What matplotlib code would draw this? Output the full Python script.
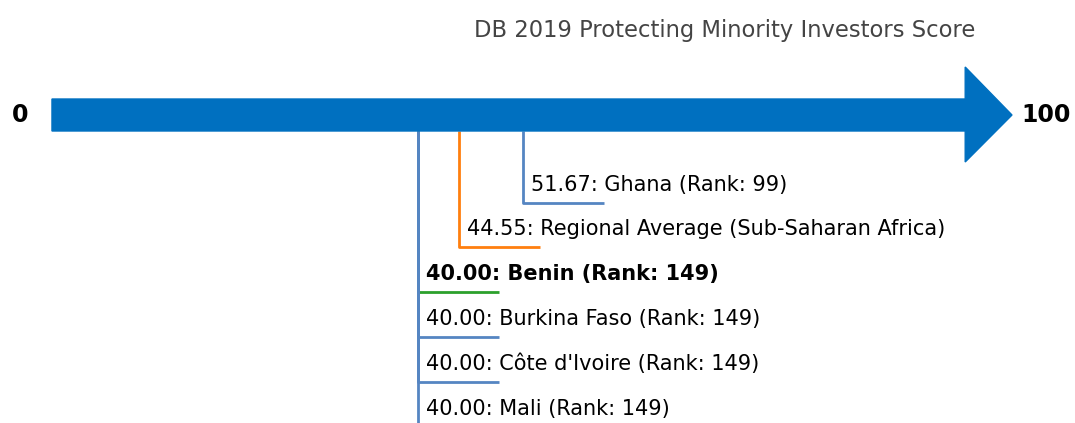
import matplotlib.pyplot as plt
from matplotlib.patches import Polygon

# data
title = "DB 2019 Protecting Minority Investors Score"
names = ["Ghana (Rank: 99)", "Regional Average (Sub-Saharan Africa)", "Benin (Rank: 149)",
         "Burkina Faso (Rank: 149)", "Côte d'Ivoire (Rank: 149)", "Mali (Rank: 149)"]
scores = [51.67, 44.55, 40.00, 40.00, 40.00, 40.00]
colors = ["#5585c2", "#ff7f0e", "#2ca02c", "#5585c2", "#5585c2", "#5585c2"]
bold = [False, False, True, False, False, False]

px = 9.0          # pixels per score unit
x0 = 58.0         # pixel position of score 0
W, H = 1075, 423

fig = plt.figure(figsize=(W / 100, H / 100), dpi=100)
ax = fig.add_axes([0, 0, 1, 1])
ax.set_xlim(-x0 / px, (W - x0) / px)
ax.set_ylim(H, 0)
ax.axis("off")

# arrow
body_top, body_bot, head_top, head_bot, yc = 99, 131, 67, 162, 115
start, head_base, tip = -0.67, 100.8, 106.0
arrow = Polygon([(start, body_top), (head_base, body_top), (head_base, head_top), (tip, yc),
                 (head_base, head_bot), (head_base, body_bot), (start, body_bot)],
                closed=True, color="#0070c0", zorder=3)
ax.add_patch(arrow)
ax.text(-4.2, yc, "0", fontsize=17, fontweight="bold", ha="center", va="center")
ax.text(107.0, yc, "100", fontsize=17, fontweight="bold", ha="left", va="center")
ax.text((975 - x0) / px, 31, title, fontsize=16.3, color="#444444", ha="right", va="center")

# markers
levels = [203, 247, 292, 337, 382, 427]
for i, (n, s, c) in enumerate(zip(names, scores, colors)):
    y = levels[i]
    ax.plot([s, s, s + 9], [body_bot, y, y], color=c, lw=2, zorder=2, solid_capstyle="butt")
    ax.text(s + 0.9, y - 18, "%.2f: %s" % (s, n), fontsize=15, va="center", ha="left",
            fontweight="bold" if bold[i] else "normal")

fig.savefig("out.png", dpi=100)
